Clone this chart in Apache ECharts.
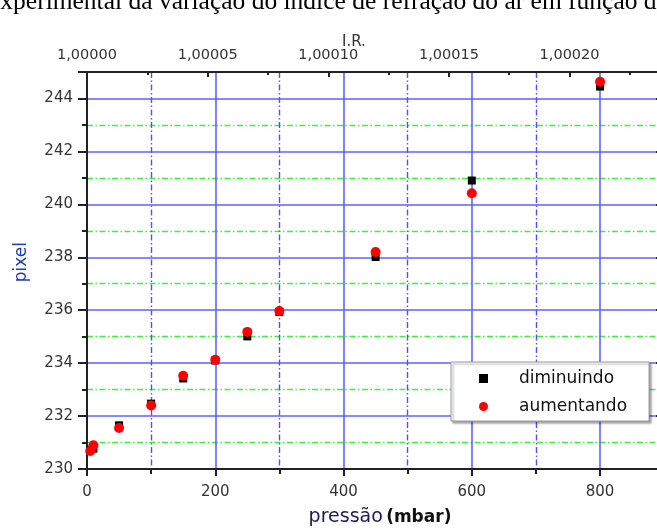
<!DOCTYPE html>
<html>
<head>
<meta charset="utf-8">
<script src="https://cdn.jsdelivr.net/npm/echarts@6/dist/echarts.min.js"></script>
<style>
  html, body { margin: 0; padding: 0; background: #fff; }
  #chart { width: 657px; height: 532px; }
</style>
</head>
<body>
<div id="chart"></div>
<script>
// Pressure steps (mbar) and the measured fringe position (pixel)
const pressure   = [5, 10, 50, 100, 150, 200, 250, 300, 450, 600, 800];
const diminuindo = [230.72, 230.77, 231.65, 232.47, 233.42, 234.10, 235.01, 235.93, 238.01, 240.90, 244.45];
const aumentando = [230.68, 230.90, 231.55, 232.40, 233.52, 234.13, 235.18, 235.97, 238.20, 240.42, 244.63];

// Refractive index scale on the top axis (units of 1e-5 above 1)
const irTicks  = [0, 5, 10, 15, 20];
const irLabels = ['1,00000', '1,00005', '1,00010', '1,00015', '1,00020'];

const pMax  = 895;    // pressure range shown
const irMax = 23.79;  // matching refractive index range (x1e-5)

const font = 'DejaVu Sans';
const blue = '#6262ff';
const blueDash = '#5050ff';
const green = '#3cf03c';
const dashDot = [6, 2.5, 1.5, 2.5];

const chart = echarts.init(document.getElementById('chart'), null, { renderer: 'canvas' });

chart.setOption({
  animation: false,
  backgroundColor: '#ffffff',
  grid: { left: 87, top: 72, width: 574, height: 397, containLabel: false, outerBoundsMode: 'none' },
  graphic: [
    {
      type: 'text', left: -11, top: -11, silent: true,
      style: {
        text: 'experimental da variação do índice de refração do ar em função da pressão',
        font: '25.5px "Liberation Serif"', fill: '#000'
      }
    },
    {
      type: 'text', left: 342, top: 35, silent: true,
      style: { text: 'I.R.', font: '15px "DejaVu Sans"', fill: '#333' }
    },
    {
      type: 'text', left: 13, top: 242, rotation: Math.PI / 2, silent: true,
      style: { text: 'pixel', font: '17px "DejaVu Sans"', fill: '#1e3cb4' }
    }
  ],
  legend: {
    orient: 'vertical',
    left: 451, top: 362,
    padding: [8, 22, 6, 28],
    itemGap: 11,
    itemWidth: 9, itemHeight: 9,
    backgroundColor: '#fff',
    borderColor: '#9a9a9a', borderWidth: 1,
    shadowColor: 'rgba(0,0,0,0.35)', shadowBlur: 2, shadowOffsetX: 2, shadowOffsetY: 2,
    textStyle: { fontFamily: font, fontSize: 17, color: '#111', padding: [0, 0, 0, 26] },
    data: [
      { name: 'diminuindo', icon: 'rect' },
      { name: 'aumentando', icon: 'circle' }
    ]
  },
  xAxis: [
    {
      type: 'value', position: 'bottom', min: 0, max: pMax, interval: 200,
      axisLine: { onZero: false, lineStyle: { color: '#222', width: 2 } },
      axisTick: { inside: false, length: 7, lineStyle: { color: '#222', width: 2 } },
      minorTick: { show: true, splitNumber: 2, length: 5, lineStyle: { color: '#222', width: 2 } },
      axisLabel: { fontFamily: font, fontSize: 15, color: '#333', margin: 16,
                   showMaxLabel: false },
      splitLine: { show: true, lineStyle: { color: blue, width: 1.6 } },
      minorSplitLine: { show: true, lineStyle: { color: blueDash, width: 1.4, type: dashDot, opacity: 1 } },
      name: '{a|pressão} {b|(mbar)}',
      nameLocation: 'middle', nameGap: 39,
      nameTextStyle: {
        padding: [0, 0, 0, 12],
        rich: {
          a: { fontFamily: font, fontSize: 19, color: '#1c1c55' },
          b: { fontFamily: font, fontSize: 17, fontWeight: 'bold', color: '#111' }
        }
      }
    },
    {
      type: 'value', position: 'top', min: 0, max: irMax, interval: 5,
      axisLine: { onZero: false, lineStyle: { color: '#222', width: 2 } },
      axisTick: { inside: true, length: 5, lineStyle: { color: '#222', width: 2 } },
      minorTick: { show: true, splitNumber: 2, length: 3, lineStyle: { color: '#222', width: 2 } },
      axisLabel: {
        fontFamily: font, fontSize: 14.5, color: '#333', margin: 9, showMaxLabel: false,
        formatter: v => { const i = irTicks.indexOf(Math.round(v)); return i >= 0 ? irLabels[i] : ''; }
      },
      splitLine: { show: false }
    }
  ],
  yAxis: [
    {
      type: 'value', position: 'left', min: 230, max: 245, interval: 2,
      axisLine: { show: true, onZero: false, lineStyle: { color: '#222', width: 2 } },
      axisTick: { show: true, inside: false, length: 9, lineStyle: { color: '#222', width: 2 } },
      minorTick: { show: true, splitNumber: 2, length: 5, lineStyle: { color: '#222', width: 2 } },
      axisLabel: { fontFamily: font, fontSize: 15, color: '#333', margin: 14, showMaxLabel: false },
      splitLine: { show: true, lineStyle: { color: blue, width: 1.6 } },
      minorSplitLine: { show: true, lineStyle: { color: green, width: 1.4, type: dashDot, opacity: 1 } }
    },
    {
      type: 'value', position: 'right', min: 230, max: 245, interval: 2,
      axisLine: { show: true, onZero: false, lineStyle: { color: '#222', width: 2 } },
      axisTick: { show: true, inside: true, length: 5, lineStyle: { color: '#222', width: 2 } },
      minorTick: { show: true, splitNumber: 2, length: 3, lineStyle: { color: '#222', width: 2 } },
      axisLabel: { show: false },
      splitLine: { show: false }
    }
  ],
  series: [
    {
      name: 'diminuindo', type: 'scatter', symbol: 'rect', symbolSize: 8,
      itemStyle: { color: '#000', opacity: 1 },
      data: pressure.map((p, i) => [p, diminuindo[i]])
    },
    {
      name: 'aumentando', type: 'scatter', symbol: 'circle', symbolSize: 10,
      itemStyle: { color: '#ff0000', opacity: 1 },
      data: pressure.map((p, i) => [p, aumentando[i]])
    }
  ]
});
</script>
</body>
</html>
